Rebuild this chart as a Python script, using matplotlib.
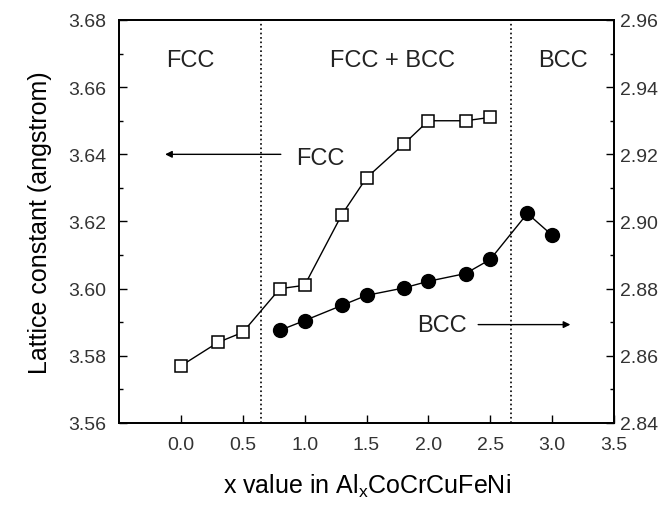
import matplotlib
matplotlib.use('Agg')
import matplotlib.pyplot as plt
from matplotlib.ticker import MultipleLocator

plt.rcParams['font.family'] = ['Liberation Sans', 'DejaVu Sans']

# FCC lattice constant (left axis)
x_fcc = [0.0, 0.3, 0.5, 0.8, 1.0, 1.3, 1.5, 1.8, 2.0, 2.3, 2.5]
a_fcc = [3.577, 3.584, 3.587, 3.600, 3.601, 3.622, 3.633, 3.643, 3.650, 3.650, 3.651]

# BCC lattice constant (right axis)
x_bcc = [0.8, 1.0, 1.3, 1.5, 1.8, 2.0, 2.3, 2.5, 2.8, 3.0]
a_bcc = [2.8676, 2.8705, 2.875, 2.878, 2.8802, 2.8822, 2.8845, 2.8887, 2.9024, 2.8959]

# phase boundaries
boundaries = [0.65, 2.67]

fig = plt.figure(figsize=(6.68, 5.10), dpi=100)
ax = fig.add_axes([119/668, 1 - 424/510, (614-119)/668, (424-21)/510])
ax2 = ax.twinx()

ax.plot(x_fcc, a_fcc, '-', color='black', lw=1.0, marker='s', ms=9,
        mfc='white', mec='black', mew=1.1)
ax2.plot(x_bcc, a_bcc, '-', color='black', lw=1.0, marker='o', ms=10,
         mfc='black', mec='black')

for b in boundaries:
    ax.axvline(b, color='black', ls=':', lw=1.2)

ax.set_xlim(-0.5, 3.5)
ax.set_ylim(3.56, 3.68)
ax2.set_ylim(2.84, 2.96)

ax.set_xticks([0.0, 0.5, 1.0, 1.5, 2.0, 2.5, 3.0, 3.5])
ax.set_xticklabels(['0.0', '0.5', '1.0', '1.5', '2.0', '2.5', '3.0', '3.5'])
ax.yaxis.set_major_locator(MultipleLocator(0.02))
ax.yaxis.set_minor_locator(MultipleLocator(0.01))
ax2.yaxis.set_major_locator(MultipleLocator(0.02))
ax2.yaxis.set_minor_locator(MultipleLocator(0.01))
ax.yaxis.set_major_formatter(plt.FormatStrFormatter('%.2f'))
ax2.yaxis.set_major_formatter(plt.FormatStrFormatter('%.2f'))

ax.tick_params(axis='both', which='major', direction='in', length=6, width=1,
               labelsize=14, colors='black', labelcolor='#333333')
ax.tick_params(axis='x', pad=9)
ax.tick_params(axis='y', pad=9)
ax.tick_params(axis='y', which='minor', direction='in', length=3, width=1)
ax2.tick_params(axis='y', which='major', direction='in', length=6, width=1,
                labelsize=14, labelcolor='#333333', pad=4)
ax2.tick_params(axis='y', which='minor', direction='in', length=3, width=1)

for a in (ax, ax2):
    for s in a.spines.values():
        s.set_linewidth(1.3)

ax.set_ylabel('Lattice constant (angstrom)', fontsize=18, labelpad=12)
ax.set_xlabel(r'x value in Al$_\mathregular{x}$CoCrCuFeNi', fontsize=18, labelpad=14)

# phase region labels
ax.text(0.08, 3.668, 'FCC', fontsize=17, ha='center', va='center', color='#222222')
ax.text(1.71, 3.668, 'FCC + BCC', fontsize=17, ha='center', va='center', color='#222222')
ax.text(3.09, 3.668, 'BCC', fontsize=17, ha='center', va='center', color='#222222')

# axis indicator arrows
ax.annotate('', xy=(-0.15, 3.640), xytext=(0.83, 3.640),
            arrowprops=dict(arrowstyle='-|>', color='black', lw=1.0, mutation_scale=10))
ax.text(0.93, 3.639, 'FCC', fontsize=17, ha='left', va='center', color='#222222')
ax2.annotate('', xy=(3.17, 2.8693), xytext=(2.38, 2.8693),
             arrowprops=dict(arrowstyle='-|>', color='black', lw=1.0, mutation_scale=10))
ax2.text(2.31, 2.8693, 'BCC', fontsize=17, ha='right', va='center', color='#222222')

fig.savefig('out.png', dpi=100)
